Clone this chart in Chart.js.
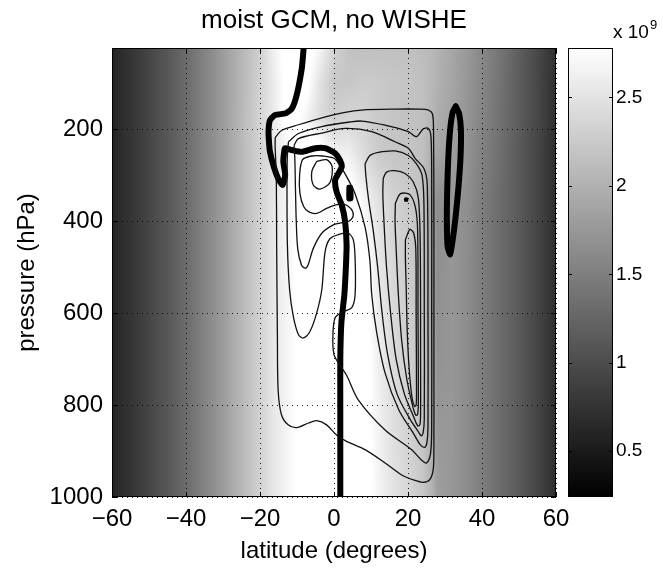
<!DOCTYPE html>
<html>
<head>
<meta charset="utf-8">
<script src="https://cdn.jsdelivr.net/npm/chart.js@4.4.1/dist/chart.umd.min.js"></script>
<style>
  html, body { margin: 0; padding: 0; background: #fff; }
  canvas { display: block; }
</style>
</head>
<body>
<canvas id="chart" width="663" height="569"></canvas>
<script>
// ---- axes ----
const xTicks = [-60, -40, -20, 0, 20, 40, 60];
const yTicks = [200, 400, 600, 800, 1000];
const pressureTop = 23;
const cbTicks = [0.5, 1, 1.5, 2, 2.5];
const cbMin = 0.24, cbMax = 2.78;

// ---- shaded field (x 10^9), one row per pressure level, one column per latitude ----
const bgLats = [-60,-55,-50,-45,-40,-35,-30,-25,-20,-16,-12,-8,-4,0,4,8,12,16,20,24,26.5,28,32,36,40,45,50,55,60];
const bgLevels = [23, 100, 175, 250, 350, 500, 700, 1000];
const mAt23   = [0.60,0.76,0.93,1.11,1.31,1.54,1.79,2.05,2.30,2.65,2.90,2.90,2.70,2.35,2.17,2.15,2.15,2.15,2.15,2.12,2.07,2.02,1.90,1.76,1.60,1.40,1.18,0.96,0.72];
const mAt100  = [0.60,0.76,0.93,1.11,1.31,1.54,1.79,2.05,2.33,2.60,2.90,2.90,2.50,2.22,2.22,2.27,2.25,2.22,2.20,2.15,2.07,2.00,1.88,1.74,1.58,1.38,1.16,0.95,0.70];
const mAt175  = [0.60,0.76,0.93,1.11,1.31,1.54,1.79,2.07,2.35,2.60,2.90,2.70,2.45,2.30,2.37,2.35,2.25,2.20,2.17,2.15,2.05,1.96,1.86,1.72,1.56,1.36,1.16,0.95,0.70];
const mAt250  = [0.60,0.76,0.93,1.11,1.31,1.54,1.79,2.07,2.33,2.53,2.68,2.90,2.90,2.65,2.62,2.42,2.25,2.20,2.20,2.15,1.97,1.87,1.82,1.70,1.53,1.34,1.13,0.93,0.69];
const mAt350  = [0.60,0.76,0.93,1.11,1.31,1.54,1.79,2.07,2.33,2.55,2.70,2.90,2.90,2.90,2.90,2.68,2.48,2.33,2.25,2.17,1.85,1.66,1.74,1.66,1.49,1.31,1.13,0.93,0.69];
const mAt500  = [0.60,0.76,0.93,1.11,1.31,1.54,1.79,2.07,2.33,2.55,2.70,2.90,2.90,2.90,2.90,2.90,2.55,2.38,2.27,2.17,1.85,1.66,1.74,1.64,1.49,1.31,1.13,0.93,0.69];
const mAt700  = [0.60,0.76,0.93,1.11,1.31,1.54,1.79,2.07,2.33,2.55,2.70,2.90,2.90,2.90,2.90,2.90,2.62,2.42,2.30,2.20,1.90,1.70,1.74,1.64,1.49,1.31,1.13,0.93,0.69];
const mAt1000 = [0.60,0.76,0.93,1.11,1.31,1.54,1.79,2.07,2.33,2.55,2.70,2.90,2.90,2.90,2.90,2.90,2.68,2.50,2.38,2.22,2.02,1.82,1.74,1.64,1.49,1.31,1.13,0.93,0.69];
const bgRows = [mAt23, mAt100, mAt175, mAt250, mAt350, mAt500, mAt700, mAt1000];

// ---- streamfunction contours, [latitude, pressure] ----
const psi1 = [[-15.9,218],[-14.1,202],[-9.6,190],[-3.3,175],[3,163],[7.5,158],[16.5,156],[23,156],[25.5,158],[26.6,166],[26.9,200],[27.0,400],[27.0,700],[27.0,900],[26.8,941],[25.9,962],[24.1,968],[21.9,964],[18.3,952],[13.8,926],[8.4,897],[3.4,879],[0.7,865],[-2,843],[-4.7,834],[-6.9,839],[-10.1,849],[-12.4,843],[-14.2,821],[-15.1,767],[-15.3,650],[-15.5,450],[-15.6,300],[-15.9,240],[-15.9,218]];
const psi2 = [[-12.3,227],[-9.6,209],[-3.3,194],[4.3,184],[7.5,182],[13.8,191],[20.1,205],[22.3,216],[24.1,199],[25.5,198],[26.2,215],[26.4,300],[26.4,600],[26.4,850],[26.1,905],[25,926],[23.7,920],[21,897],[13.8,854],[6.6,789],[3.4,735],[1.5,712],[0,690],[-0.3,650],[0.3,610],[2.5,597],[4.8,588],[5.7,560],[5.7,480],[5.2,440],[3.8,426],[1.6,428],[-1.1,438],[-2.4,466],[-3.3,549],[-4.7,600],[-6.5,640],[-8.3,654],[-9.6,647],[-11,607],[-12,549],[-12.6,450],[-12.7,300],[-12.6,257],[-12.3,227]];
const psi3 = [[-10.8,235],[-9.6,220],[-3.3,208],[3,198],[10.2,205],[16.5,227],[20.1,241],[21.9,263],[24.3,285],[25.2,320],[25.4,600],[25.4,850],[25.1,882],[24.5,892],[23.3,886],[21.5,862],[17.5,810],[13.8,730],[11.5,640],[10.2,560],[9.7,486],[8.4,413],[5.7,340],[3.0,297],[1.5,278],[0,263],[-3,258],[-6,258],[-8.5,266],[-9.3,300],[-9.2,340],[-8.2,368],[-6.9,379],[-4.7,383],[-2,372],[0.3,365],[2.5,362],[4.5,372],[5.2,387],[4,400],[1.6,404],[-0.2,408],[-3.3,426],[-5.6,459],[-7,495],[-7.8,502],[-8.8,495],[-9.8,460],[-10.2,400],[-10.4,336],[-10.6,260],[-10.8,235]];
const psi4 = [[8.4,275],[9.7,257],[12,250],[16.5,247],[20.1,257],[22.3,275],[23.8,300],[24.3,360],[24.4,600],[24.4,830],[24.1,860],[23.6,867],[22.8,858],[20.5,830],[17,775],[14.5,690],[13,600],[11.8,500],[10.6,420],[9.3,350],[8.6,300],[8.4,275]];
const psi5 = [[13.3,307],[14.2,293],[16.5,290],[19.2,296],[21.4,314],[22.8,350],[23.3,450],[23.4,700],[23.4,820],[23.2,843],[22.6,845],[21.5,825],[19,775],[16.8,700],[15.3,600],[14.2,500],[13.5,400],[13.2,340],[13.3,307]];
const psi6 = [[16.6,360],[18,340],[20.5,342],[22,370],[22.6,420],[22.7,600],[22.8,790],[22.6,820],[22.1,822],[21.2,800],[19.6,740],[18.3,660],[17.4,560],[16.8,460],[16.5,400],[16.6,360]];
const psi7 = [[19.3,440],[20.5,418],[21.5,425],[22.1,460],[22.2,600],[22.3,770],[22.2,800],[21.8,803],[21.1,785],[20.3,720],[19.8,640],[19.5,540],[19.3,480],[19.3,440]];
const psiCell = [[-4.7,270],[-6.0,292],[-5.6,321],[-3.8,330],[-1.1,316],[-0.5,281],[-2.0,266],[-4.7,270]];
const psiPeak = [[19.5, 353]];

// ---- bold contours ----
const boldMain = [[-8.2,23],[-8.7,67],[-10.1,126],[-11.4,155],[-13,165],[-15.9,169],[-17.3,180],[-17.7,205],[-17.5,235],[-17.3,249],[-16.4,278],[-15.1,307],[-13.9,321],[-13.2,299],[-13.7,270],[-13.4,245],[-13.2,241],[-11.4,245],[-8.7,249],[-5.1,241],[-2.4,241],[0.3,252],[1.6,267],[2.1,281],[1.2,296],[0.3,310],[0.7,336],[2.1,365],[3.0,401],[3.4,452],[3.2,502],[2.8,560],[2.0,620],[1.7,700],[1.7,800],[1.7,900],[1.7,1000]];
const boldLoop = [[32.9,150],[33.8,165],[34.3,200],[34.2,260],[33.6,330],[32.8,395],[32.0,445],[31.4,472],[30.7,455],[30.5,400],[30.6,330],[30.9,260],[31.4,200],[32.1,162],[32.9,150]];
const boldBlob = [[3.9,325],[4.6,325],[4.7,352],[3.9,352],[3.9,325]];

const FONT = '"Liberation Sans", Arial, Helvetica, sans-serif';
const toPts = arr => arr.map(([x, y]) => ({ x, y }));

function thinLine(arr) {
  return { data: toPts(arr), showLine: true, borderColor: '#111', borderWidth: 1.3,
           pointRadius: 0, tension: 0.3, fill: false };
}
function boldLine(arr, w) {
  return { data: toPts(arr), showLine: true, borderColor: '#000', borderWidth: w,
           pointRadius: 0, tension: 0.2, fill: false,
           borderJoinStyle: 'round', borderCapStyle: 'round' };
}

function grayOf(v) {
  const g = Math.max(0, Math.min(1, (v - cbMin) / (cbMax - cbMin)));
  return Math.round(g * 255);
}
function locate(nodes, v) {
  const n = nodes.length;
  if (v <= nodes[0]) return [0, 0];
  if (v >= nodes[n - 1]) return [n - 2, 1];
  let i = 0;
  while (nodes[i + 1] < v) i++;
  return [i, (v - nodes[i]) / (nodes[i + 1] - nodes[i])];
}

let fieldCanvas = null;
function buildField(chart) {
  const xs = chart.scales.x, ys = chart.scales.y, a = chart.chartArea;
  const w = Math.round(a.right - a.left), h = Math.round(a.bottom - a.top);
  const off = document.createElement('canvas');
  off.width = w; off.height = h;
  const octx = off.getContext('2d');
  const img = octx.createImageData(w, h);
  const cols = [], rows = [];
  for (let i = 0; i < w; i++) cols.push(locate(bgLats, xs.getValueForPixel(a.left + i + 0.5)));
  for (let j = 0; j < h; j++) rows.push(locate(bgLevels, ys.getValueForPixel(a.top + j + 0.5)));
  for (let j = 0; j < h; j++) {
    const [r, t] = rows[j];
    const r0 = bgRows[r], r1 = bgRows[r + 1];
    for (let i = 0; i < w; i++) {
      const [c, s] = cols[i];
      const v0 = r0[c] + (r0[c + 1] - r0[c]) * s;
      const v1 = r1[c] + (r1[c + 1] - r1[c]) * s;
      const g = grayOf(v0 + (v1 - v0) * t);
      const k = (j * w + i) * 4;
      img.data[k] = g; img.data[k + 1] = g; img.data[k + 2] = g; img.data[k + 3] = 255;
    }
  }
  octx.putImageData(img, 0, 0);
  fieldCanvas = off;
}

const cbLeft = 568, cbRight = 613;

const framePlugin = {
  id: 'frame',
  beforeDraw(chart) {
    const ctx = chart.ctx, a = chart.chartArea;
    ctx.save();
    ctx.fillStyle = '#fff';
    ctx.fillRect(0, 0, chart.width, chart.height);
    if (!fieldCanvas) buildField(chart);
    ctx.drawImage(fieldCanvas, Math.round(a.left), Math.round(a.top));
    // colour bar
    const cb = chart.scales.cb;
    for (let py = Math.round(cb.top); py < Math.round(cb.bottom); py++) {
      const g = grayOf(cb.getValueForPixel(py + 0.5));
      ctx.fillStyle = `rgb(${g},${g},${g})`;
      ctx.fillRect(cbLeft, py, cbRight - cbLeft, 1);
    }
    ctx.restore();
  },
  afterDraw(chart) {
    const ctx = chart.ctx, a = chart.chartArea;
    const xs = chart.scales.x, ys = chart.scales.y, cb = chart.scales.cb;
    ctx.save();
    ctx.strokeStyle = '#000';
    ctx.lineWidth = 1;
    ctx.strokeRect(Math.round(a.left) + 0.5, Math.round(a.top) + 0.5,
                   Math.round(a.right - a.left) - 1, Math.round(a.bottom - a.top) - 1);
    ctx.beginPath();
    const tl = 5;
    xTicks.forEach(v => {
      const px = Math.round(xs.getPixelForValue(v)) + 0.5;
      ctx.moveTo(px, a.bottom); ctx.lineTo(px, a.bottom - tl);
      ctx.moveTo(px, a.top); ctx.lineTo(px, a.top + tl);
    });
    yTicks.forEach(v => {
      const py = Math.round(ys.getPixelForValue(v)) + 0.5;
      ctx.moveTo(a.left, py); ctx.lineTo(a.left + tl, py);
      ctx.moveTo(a.right, py); ctx.lineTo(a.right - tl, py);
    });
    ctx.stroke();
    // colour bar frame and ticks
    ctx.strokeRect(cbLeft + 0.5, Math.round(cb.top) + 0.5, cbRight - cbLeft - 1, Math.round(cb.bottom - cb.top) - 1);
    ctx.beginPath();
    cbTicks.forEach(v => {
      const py = Math.round(cb.getPixelForValue(v)) + 0.5;
      ctx.moveTo(cbLeft, py); ctx.lineTo(cbLeft + 4, py);
      ctx.moveTo(cbRight, py); ctx.lineTo(cbRight - 4, py);
    });
    ctx.stroke();
    // title and colour-bar multiplier
    ctx.fillStyle = '#000';
    ctx.textAlign = 'center';
    ctx.textBaseline = 'alphabetic';
    ctx.font = `26px ${FONT}`;
    ctx.fillText('moist GCM, no WISHE', (a.left + a.right) / 2, 28);
    ctx.textAlign = 'left';
    ctx.font = `19px ${FONT}`;
    ctx.fillText('x 10', 613, 38);
    const w = ctx.measureText('x 10').width;
    ctx.font = `13px ${FONT}`;
    ctx.fillText('9', 613 + w + 1, 29);
    ctx.restore();
  }
};

const datasets = [
  thinLine(psi1), thinLine(psi2), thinLine(psi3), thinLine(psi4),
  thinLine(psi5), thinLine(psi6), thinLine(psi7), thinLine(psiCell),
  { data: toPts(psiPeak), showLine: false, pointRadius: 2.3, backgroundColor: '#000', borderWidth: 0 },
  boldLine(boldMain, 6), boldLine(boldLoop, 6), boldLine(boldBlob, 4)
];

const minus = v => (v < 0 ? '\u2212' + Math.abs(v) : String(v));
// keep the plot box at a fixed place: no extra room for overhanging tick labels
const noOverhang = s => { s.paddingTop = 0; s.paddingBottom = 0; s.paddingLeft = 0; s.paddingRight = 0; };

new Chart(document.getElementById('chart'), {
  type: 'scatter',
  data: { datasets },
  options: {
    responsive: false,
    animation: false,
    events: [],
    layout: { padding: { top: 48, left: 0, right: 0, bottom: 0 } },
    plugins: { legend: { display: false }, tooltip: { enabled: false }, title: { display: false } },
    scales: {
      x: {
        type: 'linear', position: 'bottom', min: -60, max: 60,
        afterBuildTicks: s => { s.ticks = xTicks.map(v => ({ value: v })); },
        afterFit: s => { s.height = 72; noOverhang(s); },
        ticks: { color: '#000', font: { family: FONT, size: 24 }, padding: 8, callback: minus, maxRotation: 0 },
        grid: { color: 'rgba(0,0,0,0.85)', lineWidth: 1, drawTicks: false },
        border: { display: false, dash: [1, 4] },
        title: { display: true, text: 'latitude (degrees)', color: '#000', font: { family: FONT, size: 24 }, padding: { top: 0, bottom: 3 } }
      },
      y: {
        type: 'linear', position: 'left', reverse: true, min: pressureTop, max: 1000,
        afterBuildTicks: s => { s.ticks = yTicks.map(v => ({ value: v })); },
        afterFit: s => { s.width = 112; noOverhang(s); },
        ticks: { color: '#000', font: { family: FONT, size: 24 }, padding: 9, callback: v => String(v) },
        grid: { color: 'rgba(0,0,0,0.85)', lineWidth: 1, drawTicks: false },
        border: { display: false, dash: [1, 4] },
        title: { display: true, text: 'pressure (hPa)', color: '#000', font: { family: FONT, size: 24 }, padding: { top: 13, bottom: 0 } }
      },
      cb: {
        type: 'linear', position: 'right', min: cbMin, max: cbMax,
        afterBuildTicks: s => { s.ticks = cbTicks.map(v => ({ value: v })); },
        afterFit: s => { s.width = 107; noOverhang(s); },
        ticks: { color: '#000', font: { family: FONT, size: 19 }, padding: 60, callback: v => String(v) },
        grid: { display: false, drawTicks: false },
        border: { display: false }
      }
    }
  },
  plugins: [framePlugin]
});
</script>
</body>
</html>
